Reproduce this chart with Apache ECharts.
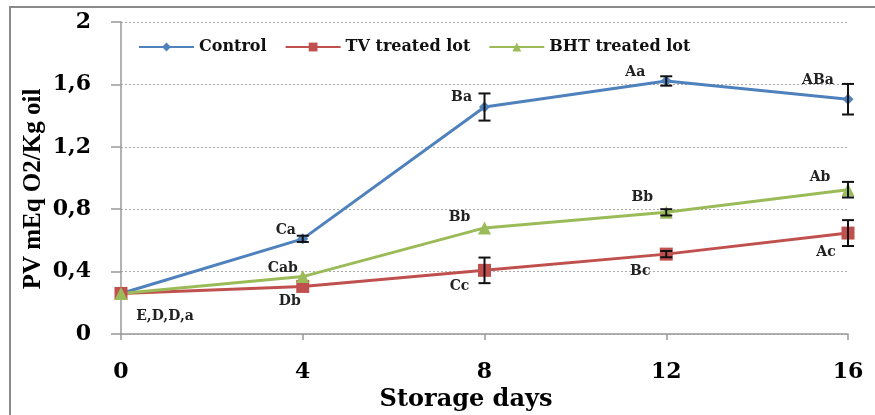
<!DOCTYPE html>
<html><head><meta charset="utf-8">
<script src="https://cdn.jsdelivr.net/npm/echarts@6/dist/echarts.min.js"></script>
<style>html,body{margin:0;padding:0;background:#fff}#c{width:875px;height:415px}</style>
</head><body><div id="c"></div>
<script>
var days = [0, 4, 8, 12, 16];
var controlVals = [0.26, 0.61, 1.455, 1.622, 1.505];
var tvVals = [0.26, 0.305, 0.408, 0.512, 0.647];
var bhtVals = [0.26, 0.368, 0.68, 0.78, 0.925];
var controlErr = [0, 0.02, 0.087, 0.03, 0.098];
var tvErr = [0, 0, 0.082, 0.02, 0.083];
var bhtErr = [0, 0, 0, 0.02, 0.05];
var controlLabels = ['E,D,D,a', 'Ca', 'Ba', 'Aa', 'ABa'];
var tvLabels = ['', 'Db', 'Cc', 'Bc', 'Ac'];
var bhtLabels = ['', 'Cab', 'Bb', 'Bb', 'Ab'];
var yTicks = ['0', '0,4', '0,8', '1,2', '1,6', '2'];
var xTitle = 'Storage days';
var yTitle = 'PV mEq O2/Kg oil';

var SERIF = '"DejaVu Serif", "Liberation Serif", serif';
var TSERIF = '"Liberation Serif", "DejaVu Serif", serif';
var colors = ['#4F81BD', '#C0504D', '#9BBB59'];

// label offsets (px) relative to points
var ctrlOff = [[44, 23], [-17, -8], [-23, -10], [-31, -9], [-30, -19]];
var tvOff = [[0, 0], [-13, 15], [-25, 16], [-26, 17], [-22, 19]];
var bhtOff = [[0, 0], [-20, -8], [-25, -11], [-24, -15], [-28, -12]];

function pairs(vals) { return days.map(function (d, i) { return [d, vals[i]]; }); }
function errData(vals, err) {
  var out = [];
  days.forEach(function (d, i) { if (err[i] > 0) out.push([d, vals[i] - err[i], vals[i] + err[i]]); });
  return out;
}
function labelData(vals, labels, offs) {
  var out = [];
  days.forEach(function (d, i) { if (labels[i]) out.push({ value: [d, vals[i]], txt: labels[i], off: offs[i] }); });
  return out;
}
var allErr = errData(controlVals, controlErr).concat(errData(tvVals, tvErr)).concat(errData(bhtVals, bhtErr));
var allLabels = labelData(controlVals, controlLabels, ctrlOff).concat(labelData(tvVals, tvLabels, tvOff)).concat(labelData(bhtVals, bhtLabels, bhtOff));

var chart = echarts.init(document.getElementById('c'), null, { renderer: 'canvas' });
chart.setOption({
  animation: false,
  grid: { left: 121, right: 27, top: 22, bottom: 81, containLabel: false, outerBoundsMode: 'none' },
  legend: {
    top: 34, left: 133, itemWidth: 55, itemHeight: 11, itemGap: 18,
    textStyle: { fontFamily: SERIF, fontSize: 16, fontWeight: 'bold', color: '#111' },
    data: ['Control', 'TV treated lot', 'BHT treated lot']
  },
  xAxis: {
    type: 'value', min: 0, max: 16, interval: 4,
    axisLine: { lineStyle: { color: '#999', width: 1.5 } },
    axisTick: { show: true, inside: false, length: 6, lineStyle: { color: '#999', width: 1.5 } },
    axisLabel: { margin: 27, fontFamily: SERIF, fontSize: 22, fontWeight: 'bold', color: '#000' },
    splitLine: { show: false }
  },
  yAxis: {
    type: 'value', min: 0, max: 2, interval: 0.4,
    axisLine: { show: true, lineStyle: { color: '#999', width: 1.5 } },
    axisTick: { show: true, inside: false, length: 10, lineStyle: { color: '#999', width: 1.5 } },
    axisLabel: {
      margin: 30, fontFamily: SERIF, fontSize: 22, fontWeight: 'bold', color: '#000',
      formatter: function (v) { return yTicks[Math.round(v / 0.4)]; }
    },
    splitLine: { show: true, lineStyle: { color: '#aaa', type: [2, 2], width: 1 } }
  },
  graphic: [
    { type: 'rect', shape: { x: 10, y: 7, width: 900, height: 450 },
      style: { fill: 'none', stroke: '#8a8a8a', lineWidth: 2 }, silent: true, z: -1 },
    { type: 'text', x: 466, y: 400, silent: true,
      style: { text: xTitle, font: 'bold 24px ' + SERIF, fill: '#000', textAlign: 'center', textVerticalAlign: 'middle' } },
    { type: 'text', x: 34, y: 189, rotation: Math.PI / 2, silent: true,
      style: { text: yTitle, font: 'bold 25px ' + TSERIF, fill: '#000', textAlign: 'center', textVerticalAlign: 'middle' } }
  ],
  series: [
    { name: 'Control', type: 'line', data: pairs(controlVals), color: colors[0],
      lineStyle: { width: 3 }, symbol: 'diamond', symbolSize: 11, itemStyle: { color: colors[0] }, z: 3 },
    { name: 'TV treated lot', type: 'line', data: pairs(tvVals), color: colors[1],
      lineStyle: { width: 3 }, symbol: 'rect', symbolSize: 13, itemStyle: { color: colors[1] }, z: 3 },
    { name: 'BHT treated lot', type: 'line', data: pairs(bhtVals), color: colors[2],
      lineStyle: { width: 3 }, symbol: 'triangle', symbolSize: 13, itemStyle: { color: colors[2] }, z: 3 },
    { type: 'custom', name: 'err', data: allErr, z: 5, silent: true,
      renderItem: function (params, api) {
        var x = api.value(0);
        var lo = api.coord([x, api.value(1)]);
        var hi = api.coord([x, api.value(2)]);
        var w = 6;
        var st = { stroke: '#111', lineWidth: 2 };
        return { type: 'group', children: [
          { type: 'line', shape: { x1: lo[0], y1: lo[1], x2: hi[0], y2: hi[1] }, style: st },
          { type: 'line', shape: { x1: lo[0] - w, y1: lo[1], x2: lo[0] + w, y2: lo[1] }, style: st },
          { type: 'line', shape: { x1: hi[0] - w, y1: hi[1], x2: hi[0] + w, y2: hi[1] }, style: st }
        ] };
      }
    },
    { type: 'custom', name: 'lbl', data: allLabels.map(function (d) { return d.value; }), z: 6, silent: true,
      renderItem: function (params, api) {
        var d = allLabels[params.dataIndex];
        var p = api.coord([api.value(0), api.value(1)]);
        return { type: 'text', x: p[0] + d.off[0], y: p[1] + d.off[1],
          style: { text: d.txt, textAlign: 'center', textVerticalAlign: 'middle',
            font: 'bold 14px ' + SERIF, fill: '#222' } };
      }
    }
  ]
});
</script></body></html>
